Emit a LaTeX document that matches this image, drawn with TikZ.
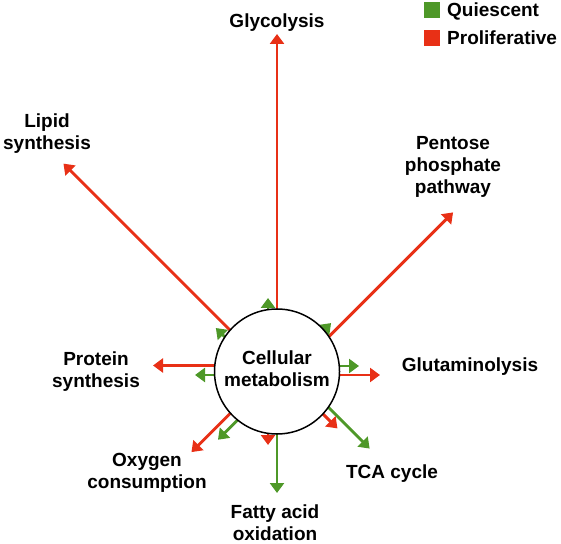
\documentclass[tikz,border=0pt]{standalone}
\usepackage{fontspec}
\setmainfont{Liberation Sans}
\usetikzlibrary{arrows.meta,calc,backgrounds}
\definecolor{qgreen}{RGB}{78,152,40}
\definecolor{pred}{RGB}{232,48,22}
\begin{document}
\begin{tikzpicture}[x=1pt,y=1pt,
  lbl/.style={font=\fontsize{19}{22}\selectfont\bfseries, inner sep=0pt, anchor=base},
  arr/.style={line width=2.9pt, -{Triangle[width=14pt,length=10pt]}},
  cell/.style={circle, draw=black, line width=1.5pt, fill=white, minimum size=125pt,
    inner sep=0pt, font=\fontsize{19}{22}\selectfont\bfseries},
  sq/.style={minimum size=16pt, inner sep=0pt}]
\useasboundingbox (0,0) rectangle (561,543);
\node[cell] (cm) at (277,171.5) {\begin{tabular}{@{}c@{}}Cellular\\metabolism\end{tabular}};
\begin{scope}[on background layer]
\foreach \col/\ang/\off/\len/\nm in {
  pred/90/0/337.5/a, qgreen/90/9/73.5/b,
  pred/135/4/298/c, qgreen/135/12.5/74/d,
  pred/45/-12/237/e, qgreen/45/-4/72.5/f,
  qgreen/0/5.5/82/g, pred/0/-3.5/103/h,
  pred/180/-6/124/i, qgreen/180/3.5/82/j,
  qgreen/315/11/120/k, pred/315/2.5/83/l,
  qgreen/270/0/121.5/m, pred/270/-9/73.5/n,
  pred/225/-3.5/117.5/o, qgreen/225/6.5/90/p}{
  \coordinate (t\nm) at ($(cm.center)+(\ang:\len)+({\ang+90}:\off)$);
  \draw[arr, color=\col] ($(cm.center)+(\ang:55)+({\ang+90}:\off)$) -- (t\nm);
}
\end{scope}
% labels
\node[lbl] (gly) at (277,515) {Glycolysis};
\node[lbl] (lip) at (47,415) {\begin{tabular}[t]{@{}c@{}}Lipid\\synthesis\end{tabular}};
\node[lbl] (pen) at (453,393) {\begin{tabular}[t]{@{}c@{}}Pentose\\phosphate\\pathway\end{tabular}};
\node[lbl] (pro) at (96,177) {\begin{tabular}[t]{@{}c@{}}Protein\\synthesis\end{tabular}};
\node[lbl] (glu) at (470,171) {Glutaminolysis};
\node[lbl] (oxy) at (147,77) {\begin{tabular}[t]{@{}c@{}}Oxygen\\consumption\end{tabular}};
\node[lbl] (tca) at (392,65) {TCA cycle};
\node[lbl] (fao) at (275,25) {\begin{tabular}[t]{@{}c@{}}Fatty acid\\oxidation\end{tabular}};
% legend
\node[sq, fill=qgreen] (lq) at (431.5,532.5) {};
\node[lbl, anchor=base west] (lqt) at (447,526) {Quiescent};
\node[sq, fill=pred] (lp) at (431.5,504.5) {};
\node[lbl, anchor=base west] (lpt) at (447,498) {Proliferative};
\end{tikzpicture}
\end{document}
